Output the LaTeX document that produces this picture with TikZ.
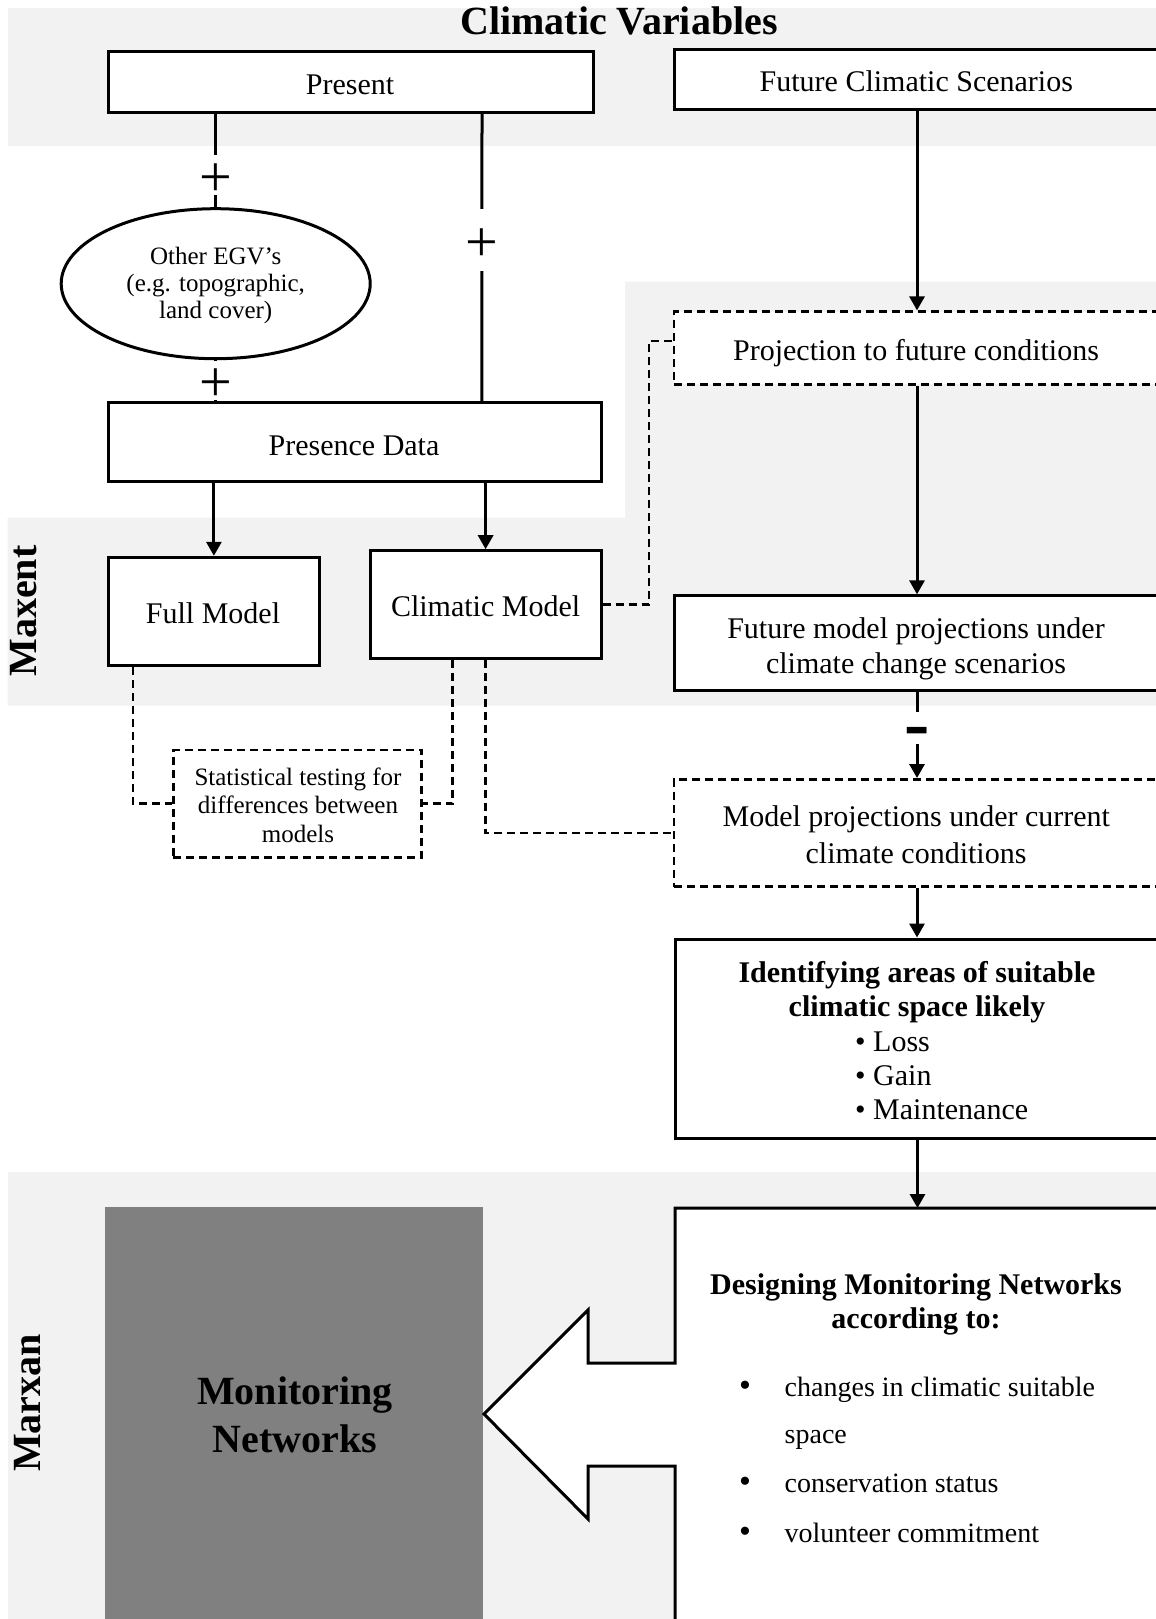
\documentclass[tikz,border=0pt]{standalone}
\usepackage{fontspec}
\setmainfont{Liberation Serif}
\usetikzlibrary{arrows.meta,shapes.geometric,calc}
\definecolor{bandgray}{RGB}{242,242,242}
\definecolor{netgray}{RGB}{128,128,128}
\begin{document}
\begin{tikzpicture}[x=1pt,y=-1pt,
 box/.style={draw,line width=3pt,fill=white,inner sep=0pt},
 dbox/.style={draw,line width=2.6pt,dash pattern=on 8pt off 5pt,fill=white,inner sep=0pt},
 conn/.style={line width=3pt},
 arr/.style={line width=3pt,-{Triangle[length=14pt,width=15pt]}},
 dconn/.style={line width=2.6pt,dash pattern=on 8pt off 5pt},
 txt/.style={anchor=base,inner sep=0pt,font=\fontsize{30}{36}\selectfont},
 btxt/.style={anchor=base,inner sep=0pt,font=\fontsize{30}{36}\selectfont\bfseries},
 stxt/.style={anchor=base,inner sep=0pt,font=\fontsize{25}{28}\selectfont},
 ltxt/.style={anchor=base west,inner sep=0pt,font=\fontsize{28}{34}\selectfont},
 htxt/.style={inner sep=0pt,font=\fontsize{40}{48}\selectfont\bfseries},
 gap/.style={fill=white,inner sep=0pt,minimum width=32pt},
 plussign/.style={inner sep=0pt,yshift=-5pt,font=\fontsize{58}{58}\selectfont},
 minussign/.style={inner sep=0pt,yshift=-10pt,font=\fontsize{76}{76}\selectfont\bfseries},
]
\useasboundingbox (0,0) rectangle (1156,1619);
% background bands
\fill[bandgray] (7.5,8.3) rectangle (1160,145.7);
\fill[bandgray] (625,281.7) -- (1160,281.7) -- (1160,705.7) -- (7.5,705.7) -- (7.5,517.7) -- (625,517.7) -- cycle;
\fill[bandgray] (7.5,1171.5) rectangle (1160,1625);
% headings
\node[htxt,anchor=base] (title) at (619,35) {Climatic Variables};
\node[htxt,rotate=90] (maxent) at (24,611) {Maxent};
\node[htxt,rotate=90] (marxan) at (27.7,1403) {Marxan};
% boxes
\node[box,minimum width=485pt,minimum height=61pt] (pres) at (351,82.2) {};
\node[box,minimum width=486pt,minimum height=60pt] (fcs) at (917,79.3) {};
\node[draw,ellipse,line width=3pt,fill=white,minimum width=309pt,minimum height=150pt,inner sep=0pt] (egv) at (215.7,283.7) {};
\node[box,minimum width=492.6pt,minimum height=79.4pt] (pd) at (354.7,442) {};
\node[box,minimum width=211pt,minimum height=108.4pt] (fm) at (213.9,611.5) {};
\node[box,minimum width=231pt,minimum height=107.6pt] (cm) at (485.6,604.5) {};
\node[dbox,minimum width=486pt,minimum height=72.6pt] (proj) at (917,348) {};
\node[box,minimum width=486pt,minimum height=94.3pt] (fmp) at (917,643) {};
\node[dbox,minimum width=486pt,minimum height=107.4pt] (cur) at (917,833) {};
\node[dbox,minimum width=248.5pt,minimum height=107.3pt] (stat) at (297.5,803.7) {};
\node[box,minimum width=485pt,minimum height=199.5pt] (ident) at (917.5,1038.75) {};
\node[fill=netgray,inner sep=0pt,minimum width=378pt,minimum height=418pt,anchor=north west] (mon) at (105,1207) {};
% designing block with arrow
\coordinate (dtop) at (917,1208);
\fill[white] (1165,1208) -- (675,1208) -- (675,1363) -- (588,1363) -- (588,1310) -- (484,1414) -- (588,1519) -- (588,1466) -- (675,1466) -- (675,1625) -- (1165,1625) -- cycle;
\draw[line width=3pt,line join=miter] (1165,1208) -- (675,1208) -- (675,1363) -- (588,1363) -- (588,1310) -- (484,1414) -- (588,1519) -- (588,1466) -- (675,1466) -- (675,1625);
% connectors
\draw[conn] (egv.north |- pres.south) -- (egv.north)
  node[gap,pos=0.65,minimum height=40pt] (g1) {} node[plussign,pos=0.65] (p1) {+};
\draw[conn] (egv.south) -- (egv.south |- pd.north)
  node[gap,pos=0.5,minimum height=39pt] (g2) {} node[plussign,pos=0.5] (p2) {+};
\draw[conn] ([xshift=375pt]pres.south west) -- ([xshift=375pt]pd.north west)
  node[gap,pos=0.44,minimum height=62pt] (g3) {} node[plussign,pos=0.44] (p3) {+};
\draw[arr] (fm.north |- pd.south) -- (fm.north);
\draw[arr] (cm.north |- pd.south) -- (cm.north);
\draw[arr] (fcs.south) -- (proj.north);
\draw[arr] (proj.south) -- (fmp.north);
\draw[arr] (fmp.south) -- (cur.north)
  node[gap,pos=0.421,minimum height=32pt] (g4) {} node[minussign,pos=0.421] (m1) {-};
\draw[arr] (cur.south) -- (cur.south |- ident.north);
\draw[arr] (ident.south) -- (ident.south |- dtop);
\draw[dconn] (cm.east) -- ++(46.5,0) |- ($(proj.west)+(0,-7)$);
\draw[dconn] ([xshift=26pt]fm.south west) |- (stat.west);
\draw[dconn] ([xshift=84pt]cm.south west) |- (stat.east);
\draw[dconn] (cm.south) |- (cur.west);
% texts
\node[txt] (tpres) at (350,94.3) {Present};
\node[txt] (tfcs) at (916.3,91.7) {Future Climatic Scenarios};
\node[stxt] (e1) at (215.7,264.5) {Other EGV’s};
\node[stxt] (e2) at (215.7,291.5) {(e.g. topographic,};
\node[stxt] (e3) at (215.7,318.5) {land cover)};
\node[txt] (tpd) at (354,455) {Presence Data};
\node[txt] (tfm) at (213,623.3) {Full Model};
\node[txt] (tcm) at (485.6,616.7) {Climatic Model};
\node[txt] (tproj) at (916,360) {Projection to future conditions};
\node[txt] (tfmp1) at (916,638.5) {Future model projections under};
\node[txt] (tfmp2) at (916,673.5) {climate change scenarios};
\node[stxt] (ts1) at (298,785.3) {Statistical testing for};
\node[stxt] (ts2) at (298,813.7) {differences between};
\node[stxt] (ts3) at (298,842) {models};
\node[txt] (tc1) at (916.3,826.7) {Model projections under current};
\node[txt] (tc2) at (916,863.3) {climate conditions};
\node[btxt] (ti1) at (917,982) {Identifying areas of suitable};
\node[btxt] (ti2) at (917,1016.5) {climatic space likely};
\node[txt,anchor=base west] (b1) at (855,1051.5) {•~Loss};
\node[txt,anchor=base west] (b2) at (855,1085.5) {•~Gain};
\node[txt,anchor=base west] (b3) at (855,1119.5) {•~Maintenance};
\node[btxt] (td1) at (916,1294) {Designing Monitoring Networks};
\node[btxt] (td2) at (916,1328) {according to:};
\node[ltxt,font=\fontsize{34}{34}\selectfont] (db1) at (739,1396) {•};
\node[ltxt] (dt1) at (784.5,1396) {changes in climatic suitable};
\node[ltxt] (dt1b) at (784.5,1443) {space};
\node[ltxt,font=\fontsize{34}{34}\selectfont] (db2) at (739,1492) {•};
\node[ltxt] (dt2) at (784.5,1492) {conservation status};
\node[ltxt,font=\fontsize{34}{34}\selectfont] (db3) at (739,1542) {•};
\node[ltxt] (dt3) at (784.5,1542) {volunteer commitment};
\node[htxt,anchor=base] (mt1) at (295,1404) {Monitoring};
\node[htxt,anchor=base] (mt2) at (295,1452.8) {Networks};
\end{tikzpicture}
\end{document}
